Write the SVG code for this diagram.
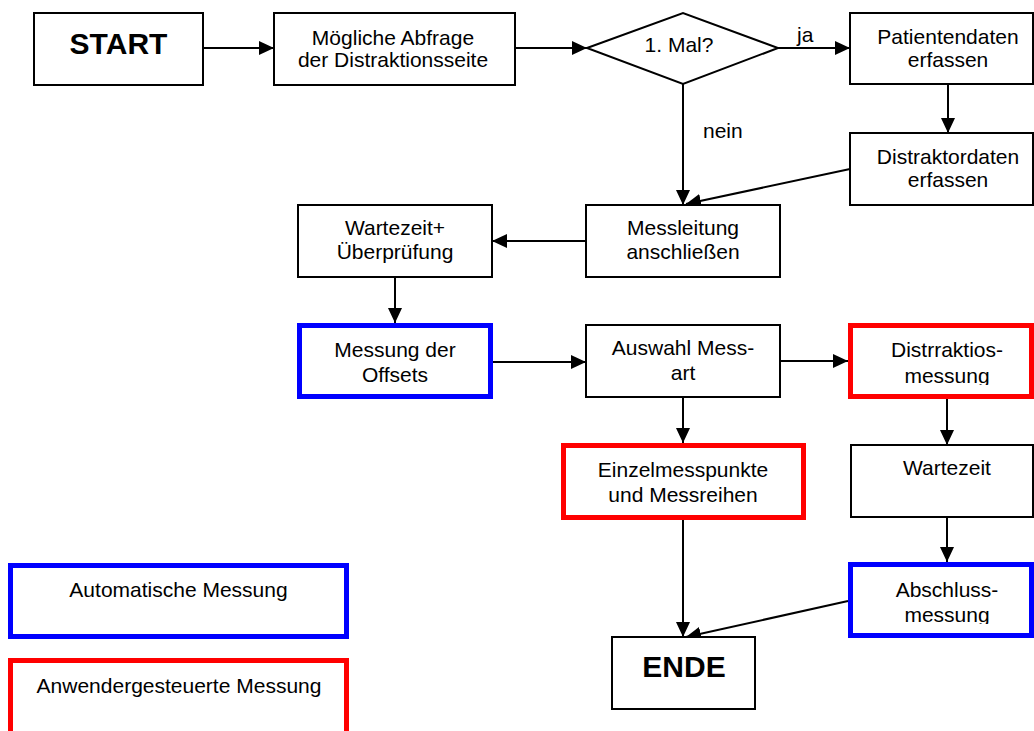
<svg xmlns="http://www.w3.org/2000/svg" width="1034" height="731" viewBox="0 0 1034 731">
<style>
.box{fill:#fff;stroke:#000;stroke-width:2}
.auto{fill:#fff;stroke:#0000ff;stroke-width:5}
.user{fill:#fff;stroke:#ff0000;stroke-width:5}
.t{font-family:"Liberation Sans",Arial,sans-serif;font-size:21px;fill:#000;text-anchor:middle}
.b{font-family:"Liberation Sans",Arial,sans-serif;font-size:30px;font-weight:bold;fill:#000;text-anchor:middle}
.lbl{font-family:"Liberation Sans",Arial,sans-serif;font-size:21px;fill:#000}
.c{fill:none;stroke:#000;stroke-width:2}
</style>
<defs>
<marker id="ah" viewBox="0 0 15 14" refX="15" refY="7" markerWidth="15" markerHeight="14" markerUnits="userSpaceOnUse" orient="auto">
<path d="M0,0 L15,7 L0,14 z" fill="#000"/>
</marker>
<clipPath id="clipD"><rect x="848" y="323" width="186" height="62"/></clipPath>
<clipPath id="clipA"><rect x="848" y="562" width="186" height="62"/></clipPath>
</defs>
<rect width="1034" height="731" fill="#fff"/>

<g id="connectors">
<path class="c" d="M203,48 L274,48" marker-end="url(#ah)"/>
<path class="c" d="M515,48 L587,48" marker-end="url(#ah)"/>
<path class="c" d="M778,48 L850,48" marker-end="url(#ah)"/>
<text class="lbl" x="797" y="42">ja</text>
<path class="c" d="M948,84 L948,133" marker-end="url(#ah)"/>
<path class="c" d="M683,84 L683,205" marker-end="url(#ah)"/>
<text class="lbl" x="703" y="138">nein</text>
<path class="c" d="M850,169 L686,204" marker-end="url(#ah)"/>
<path class="c" d="M586,241 L492,241" marker-end="url(#ah)"/>
<path class="c" d="M395,277 L395,323" marker-end="url(#ah)"/>
<path class="c" d="M493,362 L586,362" marker-end="url(#ah)"/>
<path class="c" d="M780,361 L848,361" marker-end="url(#ah)"/>
<path class="c" d="M683,397 L683,443" marker-end="url(#ah)"/>
<path class="c" d="M947,399 L947,445" marker-end="url(#ah)"/>
<path class="c" d="M947,517 L947,562" marker-end="url(#ah)"/>
<path class="c" d="M683,520 L683,637" marker-end="url(#ah)"/>
<path class="c" d="M848,601 L686,637" marker-end="url(#ah)"/>
</g>

<g id="start">
<rect class="box" x="34" y="13" width="169" height="72"/>
<text class="b" x="118.5" y="54">START</text>
</g>
<g id="abfrage">
<rect class="box" x="274" y="13" width="241" height="72"/>
<text class="t" x="393" y="45">Mögliche Abfrage</text>
<text class="t" x="393" y="67">der Distraktionsseite</text>
</g>
<g id="decision">
<polygon class="box" points="587,48 683,13 778,48 683,84"/>
<text class="t" x="679" y="52">1. Mal?</text>
</g>
<g id="patient">
<rect class="box" x="850" y="13" width="183" height="71"/>
<text class="t" x="948" y="44">Patientendaten</text>
<text class="t" x="948" y="67">erfassen</text>
</g>
<g id="distraktor">
<rect class="box" x="850" y="133" width="183" height="72"/>
<text class="t" x="948" y="164">Distraktordaten</text>
<text class="t" x="948" y="187">erfassen</text>
</g>
<g id="messleitung">
<rect class="box" x="586" y="205" width="194" height="72"/>
<text class="t" x="683" y="235">Messleitung</text>
<text class="t" x="683" y="259">anschließen</text>
</g>
<g id="wartezeit1">
<rect class="box" x="298" y="205" width="194" height="72"/>
<text class="t" x="395" y="235">Wartezeit+</text>
<text class="t" x="395" y="259">Überprüfung</text>
</g>
<g id="offsets">
<rect class="auto" x="299.5" y="325.5" width="191" height="71"/>
<text class="t" x="395" y="357">Messung der</text>
<text class="t" x="395" y="382">Offsets</text>
</g>
<g id="auswahl">
<rect class="box" x="586" y="325" width="194" height="72"/>
<text class="t" x="683" y="355">Auswahl Mess-</text>
<text class="t" x="683" y="380">art</text>
</g>
<g id="distraktionsmessung">
<rect class="user" x="850.5" y="325.5" width="181" height="71"/>
<g clip-path="url(#clipD)">
<text class="t" x="947" y="357">Distrraktios-</text>
<text class="t" x="947" y="383">messung</text>
</g>
</g>
<g id="einzel">
<rect class="user" x="563.5" y="445.5" width="240" height="72"/>
<text class="t" x="683" y="477">Einzelmesspunkte</text>
<text class="t" x="683" y="502">und Messreihen</text>
</g>
<g id="wartezeit2">
<rect class="box" x="851" y="445" width="182" height="72"/>
<text class="t" x="947" y="475">Wartezeit</text>
</g>
<g id="abschluss">
<rect class="auto" x="850.5" y="564.5" width="181" height="71"/>
<g clip-path="url(#clipA)">
<text class="t" x="947" y="597">Abschluss-</text>
<text class="t" x="947" y="622">messung</text>
</g>
</g>
<g id="ende">
<rect class="box" x="612" y="637" width="143" height="72"/>
<text class="b" x="684" y="677">ENDE</text>
</g>
<g id="legend-auto">
<rect class="auto" x="10.5" y="565.5" width="336" height="71"/>
<text class="t" x="178.5" y="597">Automatische Messung</text>
</g>
<g id="legend-user">
<rect class="user" x="10.5" y="660.5" width="336" height="90"/>
<text class="t" x="179" y="693">Anwendergesteuerte Messung</text>
</g>
</svg>
